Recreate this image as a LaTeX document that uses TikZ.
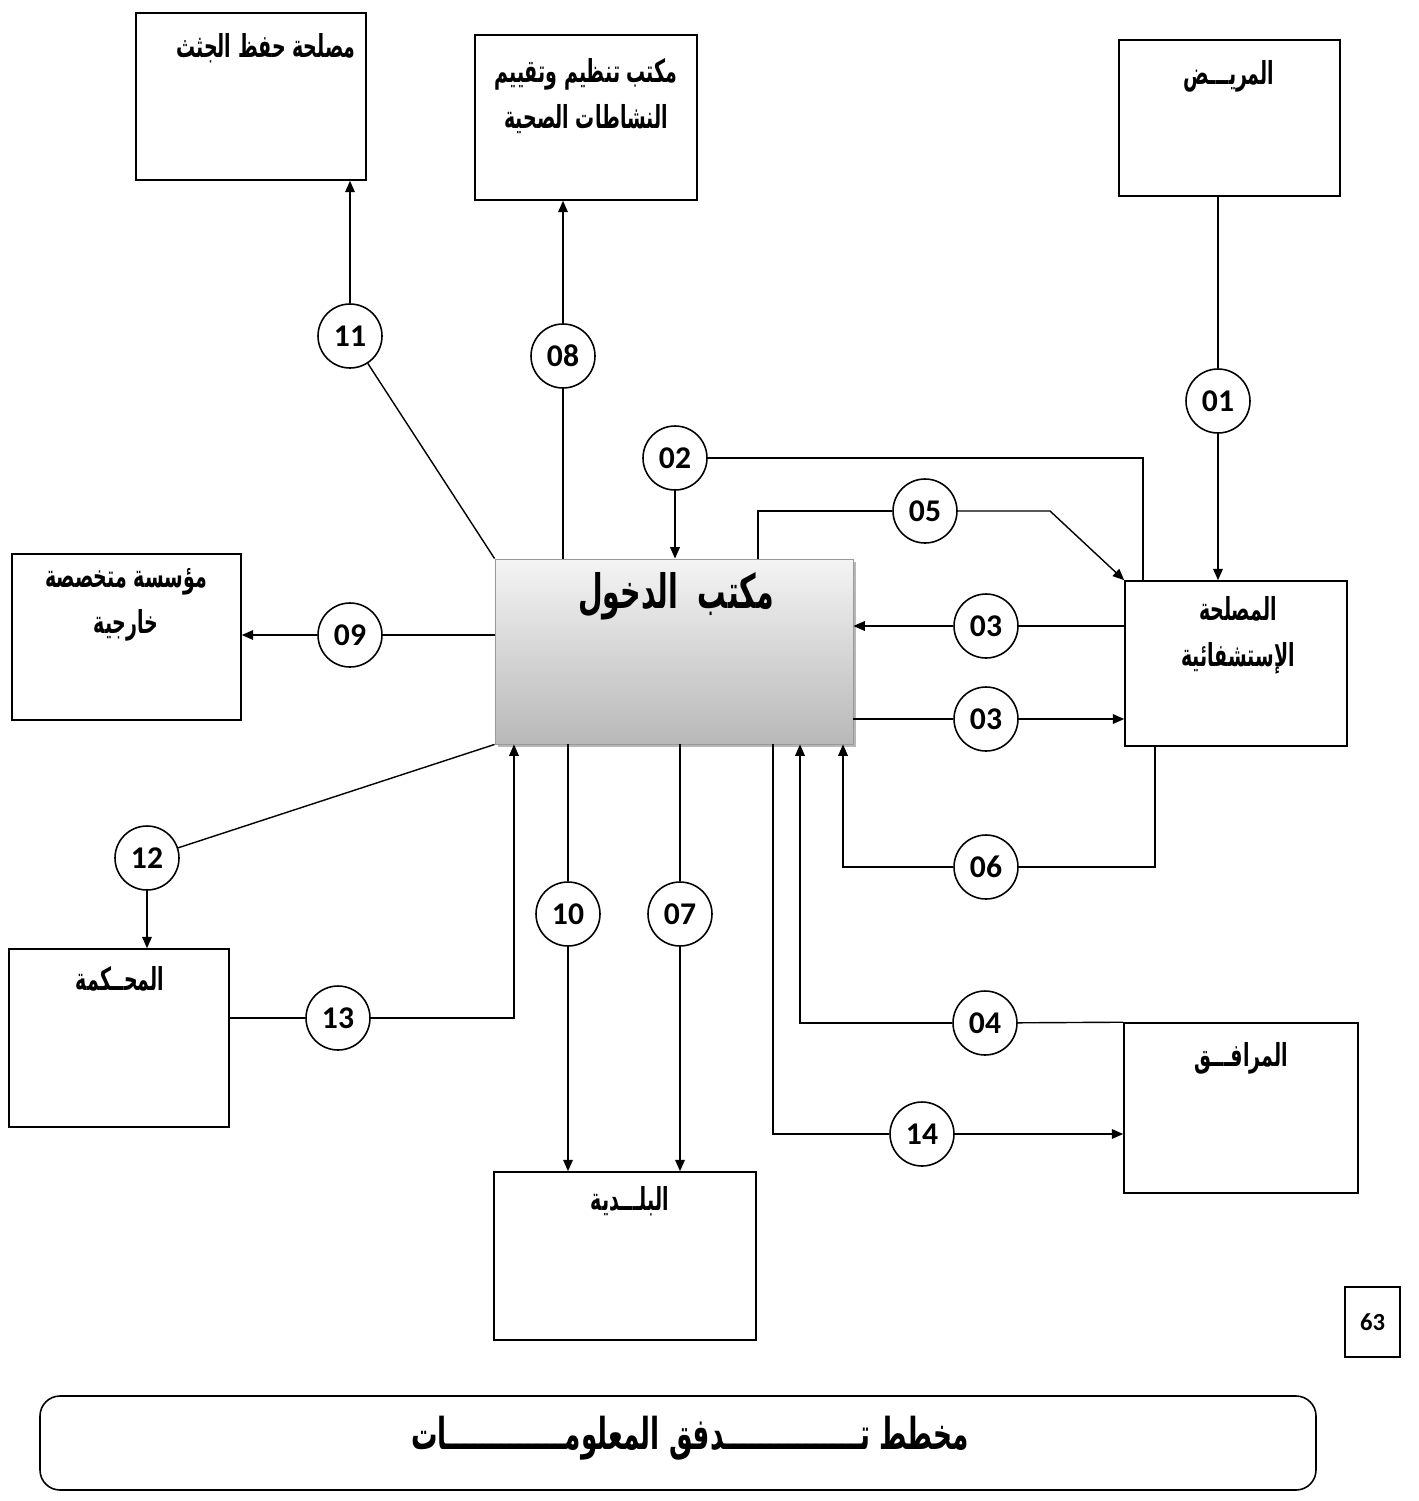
\documentclass[tikz,border=0pt]{standalone}
\usepackage{fontspec}
\newfontfamily\arabicfont[Script=Arabic, FakeStretch=0.6]{DejaVu Sans}
\newfontfamily\numfont{Carlito}
\TeXXeTstate=1
\newcommand\tatw{ـ}
\usetikzlibrary{fit,shadows,arrows.meta}
\definecolor{shtop}{HTML}{F4F4F4}
\definecolor{shbot}{HTML}{B8B8B8}
\tikzset{
  box/.style={draw, line width=0.9pt, inner sep=0pt, fill=white},
  num/.style={draw, circle, line width=0.9pt, fill=white, minimum size=1.28cm, inner sep=0pt, font=\numfont\bfseries\fontsize{18}{20}\selectfont},
  lbl/.style={font=\arabicfont\bfseries\fontsize{18}{26}\selectfont, align=center, inner sep=0pt},
  conn/.style={line width=0.8pt},
  arr/.style={line width=0.8pt, -{Triangle[length=6.5pt,width=5.5pt]}}
}
\begin{document}
\begin{tikzpicture}[x=0.02cm,y=-0.02cm]
\useasboundingbox[fill=white] (0,0) rectangle (1418,1501);
% boxes
\node[box, fit={(136,13) (366,180)}] (hifz) {};
\node[lbl, anchor=north] (thifz) at (266,33) {\beginR مصلحة  حفظ الجثث\endR};
\node[box, fit={(475,35) (697,200)}] (tanz) {};
\node[lbl, anchor=north] (ttanz) at (586,58) {\beginR مكتب تنظيم وتقييم\endR\\\beginR النشاطات الصحية\endR};
\node[box, fit={(1119,40) (1340,196)}] (mrid) {};
\node[lbl, anchor=north] (tmrid) at (1229,60) {\beginR المريـــض\endR};
\node[box, fit={(12,554) (241,720)}] (muas) {};
\node[lbl, anchor=north] (tmuas) at (126,568) {\beginR مؤسسة متخصصة\endR\\\beginR خارجية\endR};
\node[box, fit={(1125,581) (1347,746)}] (mus) {};
\node[lbl, anchor=north] (tmus) at (1238,596) {\beginR المصلحة\endR\\\beginR الإستشفائية\endR};
\node[box, fit={(9,949) (229,1127)}] (mahk) {};
\node[lbl, anchor=north] (tmahk) at (120,966) {\beginR المحــكمة\endR};
\node[box, fit={(494,1172) (756,1340)}] (bald) {};
\node[lbl, anchor=north] (tbald) at (630,1186) {\beginR البلـــدية\endR};
\node[box, fit={(1124,1023) (1358,1193)}] (marf) {};
\node[lbl, anchor=north] (tmarf) at (1241,1042) {\beginR المرافـــق\endR};
% central box
\node[draw=gray!80, line width=0.5pt, inner sep=0pt, top color=shtop, bottom color=shbot,
      drop shadow={shadow xshift=0.05cm, shadow yshift=-0.05cm, fill=gray!70, opacity=0.8},
      fit={(495,559) (853,744)}] (dukh) {};
\node[lbl, font=\arabicfont\bfseries\fontsize{27}{28}\selectfont, anchor=north] (tdukh) at (676,572) {\beginR مكتب\ \ الدخول\endR};
% page number
\node[draw, line width=0.7pt, inner sep=0pt, fit={(1345,1287) (1400,1357)}] (pg) {};
\node[font=\numfont\bfseries\fontsize{14}{16}\selectfont] (tpg) at (pg.center) {63};
% title
\node[draw, line width=0.9pt, rounded corners=0.4cm, inner sep=0pt, fit={(40,1396) (1316,1490)}] (ttl) {};
\node[lbl, font=\arabicfont\bfseries\fontsize{25}{27}\selectfont] (tttl) at (690,1438) {\beginR مخطط ت\tatw\tatw\tatw\tatw\tatw\tatw\tatw\tatw\tatw\tatw\tatw\tatw\tatw\tatw\tatw دفق المعلوم\tatw\tatw\tatw\tatw\tatw\tatw\tatw\tatw\tatw\tatw\tatw\tatw\tatw ات\endR};
% circles
\node[num] (c11) at (350,336) {11};
\node[num] (c08) at (563,356) {08};
\node[num] (c01) at (1218,401) {01};
\node[num] (c02) at (675,458) {02};
\node[num] (c05) at (925,511) {05};
\node[num] (c03a) at (986,626) {03};
\node[num] (c03b) at (986,719) {03};
\node[num] (c09) at (350,635) {09};
\node[num] (c12) at (147,858) {12};
\node[num] (c10) at (568,914) {10};
\node[num] (c07) at (680,914) {07};
\node[num] (c06) at (986,867) {06};
\node[num] (c13) at (338,1018) {13};
\node[num] (c04) at (985,1023) {04};
\node[num] (c14) at (922,1134) {14};
% helper coordinates
\coordinate (k02) at (1143,458);
\coordinate (k05a) at (758,511);
\coordinate (k05b) at (1050,511);
\coordinate (k06a) at (1155,867);
\coordinate (k06b) at (843,867);
\coordinate (k04) at (800,1023);
\coordinate (k14) at (773,1134);
\coordinate (k13) at (514,1018);
% connectors
\draw[conn] (mrid.south -| c01) -- (c01);
\draw[arr] (c01) -- (c01 |- mus.north);
\draw[conn] (k02 |- mus.north) -- (k02) -- (c02);
\draw[arr] (c02) -- (c02 |- dukh.north);
\draw[conn] (k05a |- dukh.north) -- (k05a) -- (c05);
\draw[arr] (c05) -- (k05b) -- (mus.north west);
\draw[conn] (mus.west |- c03a) -- (c03a);
\draw[arr] (c03a) -- (dukh.east |- c03a);
\draw[conn] (dukh.east |- c03b) -- (c03b);
\draw[arr] (c03b) -- (mus.west |- c03b);
\draw[conn] (k06a |- mus.south) -- (k06a) -- (c06);
\draw[arr] (c06) -- (k06b) -- (k06b |- dukh.south);
\draw[conn] (marf.north west) -- (c04);
\draw[arr] (c04) -- (k04) -- (k04 |- dukh.south);
\draw[conn] (k14 |- dukh.south) -- (k14) -- (c14);
\draw[arr] (c14) -- (marf.west |- c14);
\draw[conn] (c07 |- dukh.south) -- (c07);
\draw[arr] (c07) -- (c07 |- bald.north);
\draw[conn] (c10 |- dukh.south) -- (c10);
\draw[arr] (c10) -- (c10 |- bald.north);
\draw[conn] (mahk.east |- c13) -- (c13);
\draw[arr] (c13) -- (k13) -- (k13 |- dukh.south);
\draw[conn] (dukh.south west) -- (c12);
\draw[arr] (c12) -- (c12 |- mahk.north);
\draw[conn] (dukh.west |- c09) -- (c09);
\draw[arr] (c09) -- (muas.east |- c09);
\draw[conn] (c08 |- dukh.north) -- (c08);
\draw[arr] (c08) -- (c08 |- tanz.south);
\draw[conn] (dukh.north west) -- (c11);
\draw[arr] (c11) -- (c11 |- hifz.south);
\end{tikzpicture}
\end{document}
